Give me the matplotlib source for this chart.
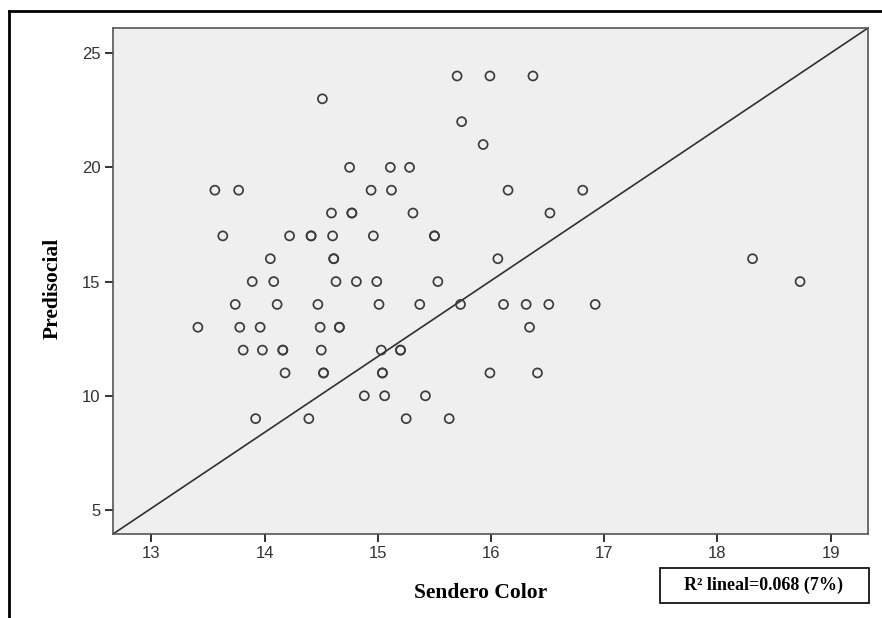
import matplotlib
matplotlib.use("Agg")
import matplotlib.pyplot as plt
from matplotlib.lines import Line2D
from matplotlib.patches import Rectangle

# ── Data ────────────────────────────────────────────────────────────────────
sendero_color = [
    15.70, 15.99, 16.37,                                   # 24
    14.51,                                                 # 23
    15.74,                                                 # 22
    15.93,                                                 # 21
    14.75, 15.11, 15.28,                                   # 20
    13.56, 13.77, 14.94, 15.12, 16.15, 16.81,              # 19
    14.59, 14.77, 14.77, 15.31, 16.52,                     # 18
    13.63, 14.22, 14.41, 14.41, 14.60, 14.96, 15.50, 15.50,  # 17
    14.05, 14.61, 14.61, 16.06, 18.31,                     # 16
    13.89, 14.08, 14.63, 14.81, 14.99, 15.53, 18.73,       # 15
    13.74, 14.11, 14.47, 15.01, 15.37, 15.73, 16.11, 16.31, 16.51, 16.92,  # 14
    13.41, 13.78, 13.96, 14.49, 14.66, 14.66, 16.34,       # 13
    13.81, 13.98, 14.16, 14.16, 14.50, 15.03, 15.20, 15.20,  # 12
    14.18, 14.52, 14.52, 15.04, 15.04, 15.99, 16.41,       # 11
    14.88, 15.06, 15.42,                                   # 10
    13.92, 14.39, 15.25, 15.63,                            # 9
]
predisocial = (
    [24] * 3 + [23] + [22] + [21] + [20] * 3 + [19] * 6 + [18] * 5 +
    [17] * 8 + [16] * 5 + [15] * 7 + [14] * 10 + [13] * 7 + [12] * 8 +
    [11] * 7 + [10] * 3 + [9] * 4
)

# line as drawn in the SPSS output
line_x = [12.66, 19.33]
line_y = [3.95, 26.1]

x_ticks = [13, 14, 15, 16, 17, 18, 19]
y_ticks = [5, 10, 15, 20, 25]
r2_label = "R² lineal=0.068 (7%)"

# ── Plot ────────────────────────────────────────────────────────────────────
fig = plt.figure(figsize=(8.82, 6.18), dpi=100)
ax = fig.add_axes([113 / 882, 1 - 534 / 618, 755 / 882, 506 / 618])
ax.set_facecolor("#efefef")

ax.plot(line_x, line_y, color="#303030", lw=1.2, zorder=2)
ax.scatter(sendero_color, predisocial, s=42, facecolors="none",
           edgecolors="#3c3c3c", linewidths=1.25, zorder=3)

ax.set_xlim(12.66, 19.33)
ax.set_ylim(3.95, 26.1)
ax.set_xticks(x_ticks)
ax.set_yticks(y_ticks)
ax.tick_params(direction="out", length=6, width=1.4, color="#333333",
               labelsize=12, labelcolor="#333333", pad=3)
for lab in ax.get_xticklabels() + ax.get_yticklabels():
    lab.set_family("Liberation Sans")
for sp in ax.spines.values():
    sp.set_color("#555555")
    sp.set_linewidth(1.2)

serif = {"family": "Liberation Serif", "weight": "bold"}
fig.text(481 / 882, 1 - 593 / 618, "Sendero Color", ha="center", va="center",
         fontsize=15.5, **serif)
fig.text(53 / 882, 1 - 288 / 618, "Predisocial", ha="center", va="center",
         rotation=90, fontsize=15.5, **serif)

# R² box
fig.add_artist(Rectangle((660 / 882, 1 - 603 / 618), 209 / 882, 35 / 618,
                         transform=fig.transFigure, fc="white", ec="black",
                         lw=1.2))
fig.text(764 / 882, 1 - 585 / 618, r2_label, ha="center", va="center",
         fontsize=13, **serif)

# outer frame (top and left only)
fig.add_artist(Line2D([9 / 882, 1.0], [1 - 11 / 618, 1 - 11 / 618],
                      color="black", lw=2, transform=fig.transFigure))
fig.add_artist(Line2D([9 / 882, 9 / 882], [0.0, 1 - 11 / 618],
                      color="black", lw=2, transform=fig.transFigure))

fig.savefig("out.png", dpi=100)
